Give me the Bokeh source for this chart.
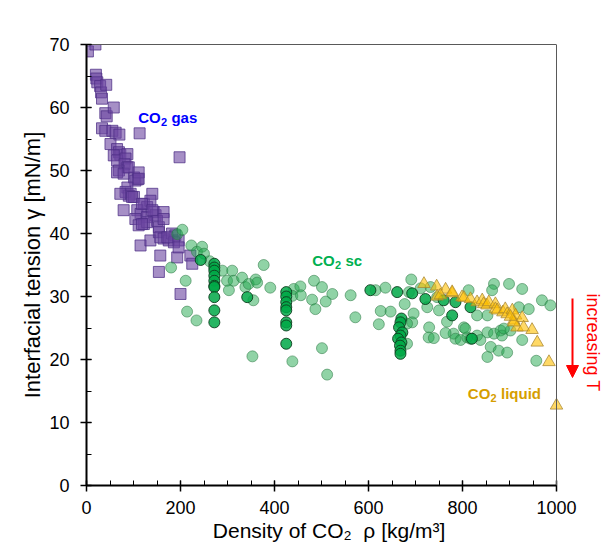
from bokeh.plotting import figure
from bokeh.models import Label, Arrow, NormalHead, FixedTicker, Range1d, LinearAxis, Span
from bokeh.embed import file_html
from bokeh.resources import INLINE

# ---------------- data ----------------
gas_rho = [3, 19, 20, 21, 23, 29, 31, 33, 42, 40, 43, 58, 33, 40, 55, 62, 70, 51, 65, 69,
           72, 87, 58, 65, 83, 81, 87, 69, 65, 113, 198, 101, 109, 104, 87, 83, 94, 90, 101, 122,
           129, 140, 136, 108, 115, 129, 143, 147, 164, 104, 122, 150, 154, 79, 90, 111, 111, 72, 97, 79,
           111, 118, 140, 164, 129, 118, 115, 136, 154, 157, 164, 175, 182, 189, 196, 186, 172, 157, 193, 196,
           221, 225, 154, 200]
gas_gamma = [68.9, 70.0, 65.2, 64.6, 64.0, 63.4, 62.4, 61.4, 63.6, 59.1, 58.6, 60.0, 56.7, 56.3, 56.3, 56.0, 55.7, 54.2, 53.4, 52.9,
             52.5, 52.6, 52.4, 51.6, 51.9, 51.0, 50.5, 50.0, 49.7, 55.9, 52.1, 48.9, 48.6, 48.4, 47.3, 46.6, 46.3, 46.0, 45.8, 44.7,
             44.2, 46.3, 45.2, 43.7, 43.1, 42.6, 43.4, 42.9, 43.4, 42.3, 41.5, 42.0, 41.0, 49.5, 50.5, 49.7, 48.7, 46.3, 45.8, 43.7,
             41.3, 44.7, 43.7, 42.3, 41.8, 41.5, 38.1, 38.9, 40.2, 39.4, 39.2, 38.9, 40.0, 39.7, 38.9, 38.6, 39.4, 36.5, 36.2, 37.8,
             36.5, 35.2, 33.9, 30.4]

sc_rho = [180, 193, 204, 211, 214, 223, 235, 246, 250, 262, 234, 289, 299, 310, 313, 303, 331, 338, 345, 360,
          363, 355, 353, 377, 391, 441, 455, 438, 456, 484, 501, 523, 509, 480, 487, 501, 438, 512, 562, 572,
          615, 636, 691, 686, 677, 626, 647, 696, 693, 622, 682, 682, 711, 732, 746, 725, 750, 729, 767, 781,
          728, 739, 764, 785, 796, 803, 810, 831, 838, 853, 860, 867, 877, 881, 884, 895, 902, 853, 867, 899,
          927, 969, 987, 920, 941, 888, 927, 957, 813, 863, 831, 853, 806, 817]
sc_gamma = [34.6, 39.9, 40.6, 32.5, 27.6, 38.1, 37.1, 37.9, 36.8, 35.6, 26.2, 34.1, 32.5, 34.1, 32.5, 31.0, 33.0, 31.5, 32.0, 32.7,
            32.2, 29.4, 20.5, 35.0, 31.4, 31.2, 31.6, 30.1, 30.2, 32.5, 31.5, 30.4, 29.2, 29.5, 28.0, 21.8, 19.7, 17.6, 30.2, 26.7,
            31.0, 31.4, 32.7, 30.7, 28.8, 27.7, 27.6, 27.3, 25.9, 25.6, 25.7, 22.5, 31.3, 31.5, 29.9, 28.3, 27.8, 25.1, 26.0, 24.1,
            23.5, 23.4, 24.2, 23.3, 23.1, 25.1, 23.5, 23.8, 23.1, 24.3, 22.0, 24.1, 21.4, 24.6, 23.8, 21.1, 24.6, 20.4, 32.0, 32.0,
            31.2, 29.4, 28.6, 28.3, 28.0, 24.9, 23.1, 19.8, 31.0, 31.0, 27.0, 27.0, 24.9, 23.3]

scd_rho = [272, 272, 272, 272, 272, 272, 272, 272, 272, 272,
           425, 425, 425, 425, 425, 425, 425, 425,
           670, 668, 665, 672, 668, 663, 670, 667, 668, 668,
           243, 342, 604, 661, 693, 721, 760, 785, 817, 778, 820]
scd_gamma = [35.2, 34.6, 34.1, 33.3, 32.5, 31.7, 31.5, 29.9, 27.8, 25.9,
             30.7, 30.0, 29.1, 28.3, 27.8, 25.9, 25.4, 22.5,
             26.5, 25.9, 25.1, 24.3, 23.8, 23.3, 22.7, 22.2, 21.4, 20.9,
             35.8, 29.9, 31.0, 30.7, 30.5, 29.6, 29.4, 29.1, 28.3, 27.0, 23.3]

liq_rho = [718, 745, 764, 778, 746, 753, 778, 799, 803, 817, 831, 842, 845, 852, 856, 870, 870, 874, 886, 891,
           895, 906, 909, 913, 916, 927, 930, 948, 959, 984, 1000, 909, 902]
liq_gamma = [32.0, 31.6, 31.1, 30.5, 30.0, 30.2, 30.7, 29.9, 29.8, 29.6, 29.1, 29.4, 28.8, 28.6, 29.1, 28.8, 28.0, 27.8, 27.5, 28.0,
             27.2, 27.8, 26.2, 27.0, 25.1, 26.6, 25.1, 24.7, 22.7, 19.6, 12.7, 25.9, 26.8]

x_ticks = [0, 200, 400, 600, 800, 1000]
x_minor = list(range(0, 1001, 50))
y_ticks = [0, 10, 20, 30, 40, 50, 60, 70]
y_minor = list(range(0, 71, 5))

NB = "\u00a0"
x_title = "Density of CO\u2082" + NB + " \u03c1 [kg/m\u00b3]" + NB * 7
y_title = "Interfacial tension \u03b3 [mN/m]"

# ---------------- layout ----------------
W, H = 612, 547
FL, FR, FT, FB = 86, 556, 44, 485          # pixel box of the 0..1000 x 0..70 axes area
XMIN, XMAX, YMIN, YMAX = 0, 1000, 0, 70
FONT = "Liberation Sans"
XEND = XMIN + (W - FL) / (FR - FL) * (XMAX - XMIN)   # frame stretched to the right edge


def dx(px):
    return XMIN + (px - FL) / (FR - FL) * (XMAX - XMIN)


def dy(py):
    return YMIN + (FB - py) / (FB - FT) * (YMAX - YMIN)


p = figure(width=W, height=H, x_range=Range1d(XMIN, XEND), y_range=Range1d(YMIN, YMAX),
           output_backend="svg", toolbar_location=None,
           min_border_left=FL, min_border_right=0, min_border_top=FT, min_border_bottom=H - FB)
p.grid.visible = False
p.background_fill_color = "white"
p.border_fill_color = "white"
p.outline_line_color = None

for ax, ticks, minor in ((p.xaxis[0], x_ticks, x_minor), (p.yaxis[0], y_ticks, y_minor)):
    ax.ticker = FixedTicker(ticks=ticks, minor_ticks=minor)
    ax.axis_line_width = 2
    ax.axis_line_color = "black"
    ax.major_tick_line_color = "black"
    ax.major_tick_line_width = 1.5
    ax.minor_tick_line_color = "black"
    ax.minor_tick_line_width = 1
    ax.major_tick_in = 5
    ax.major_tick_out = 6
    ax.minor_tick_in = 5
    ax.minor_tick_out = 0
    ax.major_label_text_font = FONT
    ax.major_label_text_font_size = "18px"
    ax.major_label_text_color = "black"
    ax.axis_label_text_font = FONT
    ax.axis_label_text_font_style = "normal"
    ax.axis_label_text_color = "black"
p.xaxis[0].axis_label_text_font_size = "21px"
p.yaxis[0].axis_label_text_font_size = "22px"
p.xaxis[0].bounds = (XMIN, XMAX)
p.yaxis[0].major_label_standoff = 11
p.xaxis[0].major_label_standoff = 9
p.xaxis[0].axis_label = x_title
p.yaxis[0].axis_label = y_title
p.xaxis[0].axis_label_standoff = 2
p.yaxis[0].axis_label_standoff = 1

# top and right frame lines (only over 0..1000)
top = LinearAxis(bounds=(XMIN, XMAX), ticker=FixedTicker(ticks=[]), axis_line_color="#595959",
                 axis_line_width=1, major_tick_line_color=None, minor_tick_line_color=None,
                 major_label_text_font_size="0px")
p.add_layout(top, "above")
p.add_layout(Span(location=XMAX, dimension="height", line_color="#595959", line_width=1))

# ---------------- marks ----------------
p.scatter(gas_rho, gas_gamma, marker="square", size=11, fill_color="#6a44a0", fill_alpha=0.6,
          line_color="#4e2f85", line_alpha=0.75, line_width=1)
p.scatter(sc_rho, sc_gamma, marker="circle", size=11, fill_color="#22a84e", fill_alpha=0.5,
          line_color="#2d7a46", line_alpha=0.55, line_width=1)
p.scatter(scd_rho, scd_gamma, marker="circle", size=11, fill_color="#00a846", fill_alpha=0.85,
          line_color="#0d3d1e", line_alpha=0.9, line_width=1)
p.scatter(liq_rho, liq_gamma, marker="triangle", size=12.5, fill_color="#ffc000", fill_alpha=0.6,
          line_color="#a88530", line_alpha=0.75, line_width=1)


# ---------------- text ----------------
def lab(text, px, py, size, color="black", style="normal", align="left",
        baseline="alphabetic", angle=0):
    p.add_layout(Label(x=dx(px), y=dy(py), text=text, text_font=FONT,
                       text_font_size=f"{size}px", text_color=color, text_font_style=style,
                       text_align=align, text_baseline=baseline, angle=angle, angle_units="deg"))


def co2_label(px, py, rest, color):
    lab("CO", px, py, 15, color, "bold")
    lab("2", px + 22.8, py + 4.5, 11, color, "bold")
    lab(rest, px + 33.2, py, 15, color, "bold")


co2_label(137.7, 116.7, "gas", "#0000ff")
co2_label(311.7, 260.0, "sc", "#00b050")
co2_label(467.3, 392.7, "liquid", "#d69e00")

# increasing T arrow
p.add_layout(Arrow(end=NormalHead(size=12, fill_color="#ff0000", line_color="#ff0000"),
                   x_start=dx(572), y_start=dy(298), x_end=dx(572), y_end=dy(377),
                   line_color="#ff0000", line_width=2))
lab("increasing T", 592, 293, 18, "#ff0000", baseline="middle", angle=-90)

open("out.html", "w").write(file_html(p, INLINE))
